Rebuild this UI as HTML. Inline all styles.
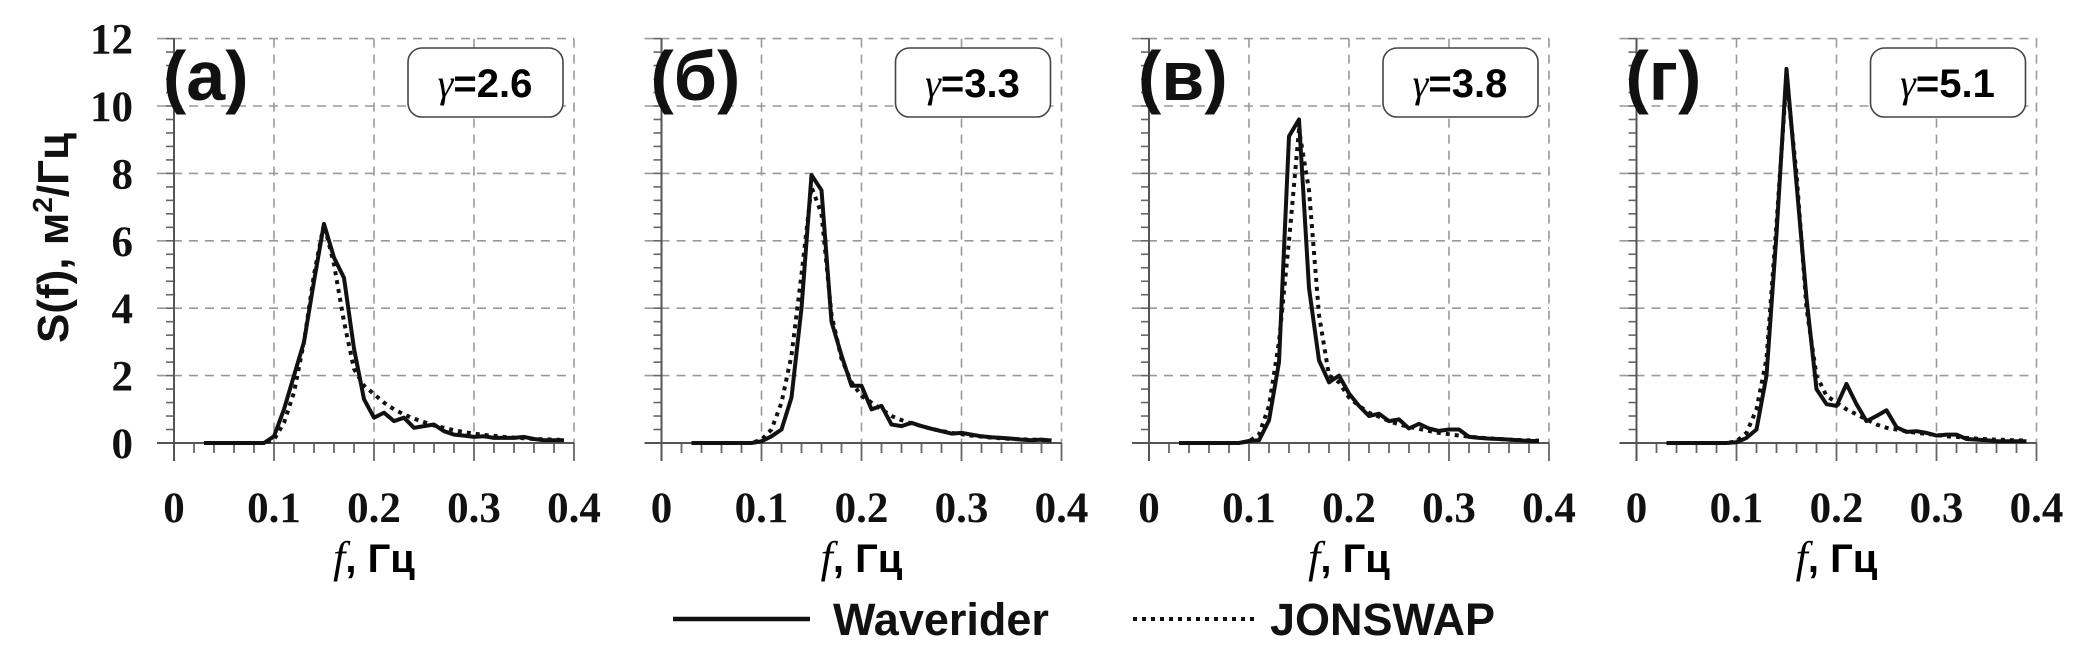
<!DOCTYPE html>
<html><head><meta charset="utf-8">
<style>
html,body{margin:0;padding:0;background:#fff;}
svg{display:block;}
.tick{font-family:"Liberation Serif",serif;font-weight:bold;font-size:43px;fill:#111;}
.sans{font-family:"Liberation Sans","DejaVu Sans",sans-serif;font-weight:bold;fill:#111;}
</style></head>
<body>
<svg id="chart" width="2092" height="665" viewBox="0 0 2092 665" xmlns="http://www.w3.org/2000/svg">
<text class="sans" font-size="44" transform="translate(68,238) rotate(-90)" text-anchor="middle">S(f), м<tspan font-size="28" dy="-16">2</tspan><tspan dy="16">/Гц</tspan></text>
<g id="panels"></g>
<g>
<line x1="673" y1="619" x2="810" y2="619" stroke="#111" stroke-width="4.5"/>
<text class="sans" font-size="45" x="833" y="635">Waverider</text>
<line x1="1133" y1="619" x2="1258" y2="619" stroke="#111" stroke-width="4" stroke-dasharray="4,5"/>
<text class="sans" font-size="45" x="1270" y="635">JONSWAP</text>
</g>
</svg>
<script>
const freqs = [0.03,0.04,0.05,0.06,0.07,0.08,0.09,0.10,0.11,0.12,0.13,0.14,0.15,0.16,0.17,0.18,0.19,0.20,0.21,0.22,0.23,0.24,0.25,0.26,0.27,0.28,0.29,0.30,0.31,0.32,0.33,0.34,0.35,0.36,0.37,0.38,0.39];
const waveA = [0,0,0,0,0,0,0,0.2,1.0,2.0,3.0,4.8,6.5,5.5,4.9,2.8,1.3,0.75,0.9,0.65,0.75,0.45,0.5,0.55,0.35,0.25,0.22,0.18,0.2,0.15,0.15,0.15,0.18,0.12,0.08,0.08,0.08];
const jonA = [0,0,0,0,0,0,0,0.1,0.6,1.5,3.0,5.0,6.5,5.3,3.6,2.2,1.7,1.45,1.2,1.0,0.85,0.72,0.62,0.52,0.45,0.38,0.32,0.28,0.24,0.21,0.18,0.16,0.14,0.12,0.11,0.1,0.09];
const waveB = [0,0,0,0,0,0,0,0.05,0.2,0.4,1.35,4.0,7.95,7.5,3.6,2.6,1.7,1.7,1.0,1.1,0.55,0.5,0.6,0.5,0.42,0.35,0.28,0.3,0.25,0.2,0.17,0.15,0.13,0.1,0.08,0.1,0.07];
const jonB = [0,0,0,0,0,0,0,0.1,0.4,1.2,2.6,5.0,7.6,6.8,3.8,2.5,1.8,1.4,1.2,1.0,0.8,0.68,0.58,0.5,0.42,0.36,0.3,0.26,0.22,0.19,0.16,0.14,0.12,0.11,0.1,0.09,0.08];
const waveC = [0,0,0,0,0,0,0,0.06,0.08,0.67,2.4,9.1,9.6,4.6,2.45,1.8,2.0,1.47,1.1,0.8,0.87,0.65,0.7,0.43,0.57,0.43,0.36,0.4,0.4,0.18,0.15,0.13,0.12,0.1,0.08,0.06,0.06];
const jonC = [0,0,0,0,0,0,0,0.05,0.25,1.1,3.0,6.0,9.3,7.5,3.8,2.0,1.8,1.35,1.1,0.9,0.78,0.65,0.55,0.48,0.42,0.36,0.3,0.26,0.22,0.19,0.16,0.14,0.12,0.1,0.09,0.08,0.07];
const waveD = [0,0,0,0,0,0,0,0.02,0.15,0.4,2.0,6.2,11.1,7.7,4.3,1.6,1.15,1.1,1.75,1.15,0.65,0.8,0.97,0.47,0.33,0.35,0.3,0.22,0.25,0.25,0.12,0.1,0.08,0.05,0.05,0.05,0.05];
const jonD = [0,0,0,0,0,0,0,0.05,0.3,1.0,2.5,6.5,10.8,8.0,4.0,2.0,1.4,1.2,1.0,0.85,0.7,0.55,0.45,0.4,0.35,0.3,0.27,0.24,0.2,0.18,0.15,0.13,0.11,0.1,0.09,0.08,0.07];
const panelLabels = ["(а)","(б)","(в)","(г)"];
const gammas = ["2.6","3.3","3.8","5.1"];
const xTicks = ["0","0.1","0.2","0.3","0.4"];
const yTicks = ["0","2","4","6","8","10","12"];

const NS="http://www.w3.org/2000/svg";
const root=document.getElementById('panels');
const waves=[waveA,waveB,waveC,waveD], jons=[jonA,jonB,jonC,jonD];
const Y0=443, PX_PER_UNIT=33.7, PX_PER_HZ=1000;
function mk(tag,attrs,parent){const e=document.createElementNS(NS,tag);for(const k in attrs)e.setAttribute(k,attrs[k]);parent.appendChild(e);return e;}
for(let p=0;p<4;p++){
  const X0=174+p*487.5;
  const xs=f=>X0+f*PX_PER_HZ;
  const ys=v=>Y0-v*PX_PER_UNIT;
  const g=mk('g',{},root);
  
  
  for(let i=1;i<=6;i++){const y=ys(i*2);
    const l=mk('line',{x1:X0-17,y1:y,x2:xs(0.4),y2:y,stroke:'#999','stroke-width':1.6,'stroke-dasharray':'9,7'},g);
    
    }
  for(let i=1;i<=4;i++){const x=xs(i*0.1);
    const l=mk('line',{x1:x,y1:ys(12),x2:x,y2:Y0,stroke:'#999','stroke-width':1.6,'stroke-dasharray':'9,7'},g);
    
    }
  for(let i=0;i<=30;i++){const y=ys(i*0.4);mk('line',{x1:X0-8,y1:y,x2:X0,y2:y,stroke:'#666','stroke-width':1.6},g);}
  for(let i=0;i<=20;i++){const x=xs(i*0.02);const major=i%5==0;mk('line',{x1:x,y1:Y0,x2:x,y2:Y0+(major?18:10),stroke:'#666','stroke-width':1.8},g);}
  const ax=mk('line',{x1:X0,y1:ys(12),x2:X0,y2:Y0+18,stroke:'#555','stroke-width':2},g);
  
  
  const axx=mk('line',{x1:X0-17,y1:Y0,x2:xs(0.4),y2:Y0,stroke:'#555','stroke-width':2},g);
  
  
  xTicks.forEach((t,i)=>{const tx=mk('text',{class:'tick',x:xs(i*0.1),y:522,'text-anchor':'middle'},g);tx.textContent=t;
    
    });
  if(p===0){yTicks.forEach((t,i)=>{const tx=mk('text',{class:'tick',x:133,y:ys(i*2)+15,'text-anchor':'end'},g);tx.textContent=t;
    
    });}
  const xt=mk('text',{x:X0+200,y:572,'text-anchor':'middle'},g);
  
  
  const t1=mk('tspan',{'font-family':'Liberation Serif, serif','font-style':'italic','font-size':'44'},xt);t1.textContent='f';
  const t2=mk('tspan',{'font-family':'Liberation Sans, sans-serif','font-weight':'bold','font-size':'40'},xt);t2.textContent=', Гц';
  const pl=mk('text',{class:'sans','font-size':'70',x:X0-11,y:100},g);pl.textContent=panelLabels[p];
  
  
  const bx=mk('rect',{x:X0+234,y:48,width:155,height:69,rx:14,fill:'#fff',stroke:'#444','stroke-width':1.6},g);
  
  
  const gt=mk('text',{x:X0+311,y:97,'text-anchor':'middle'},g);
  
  
  const g1=mk('tspan',{'font-family':'Liberation Serif, serif','font-style':'italic','font-size':'40'},gt);g1.textContent='γ';
  const g2=mk('tspan',{'font-family':'Liberation Sans, sans-serif','font-weight':'bold','font-size':'40'},gt);g2.textContent='='+gammas[p];
  const ptsW=freqs.map((f,i)=>xs(f).toFixed(1)+','+ys(waves[p][i]).toFixed(1)).join(' ');
  const ptsJ=freqs.map((f,i)=>xs(f).toFixed(1)+','+ys(jons[p][i]).toFixed(1)).join(' ');
  const lj=mk('polyline',{points:ptsJ,fill:'none',stroke:'#111','stroke-width':4,'stroke-dasharray':'4,5','stroke-linejoin':'round'},g);
  
  
  const lw=mk('polyline',{points:ptsW,fill:'none',stroke:'#111','stroke-width':4,'stroke-linejoin':'round'},g);
  
  
}
</script>
</body></html>
